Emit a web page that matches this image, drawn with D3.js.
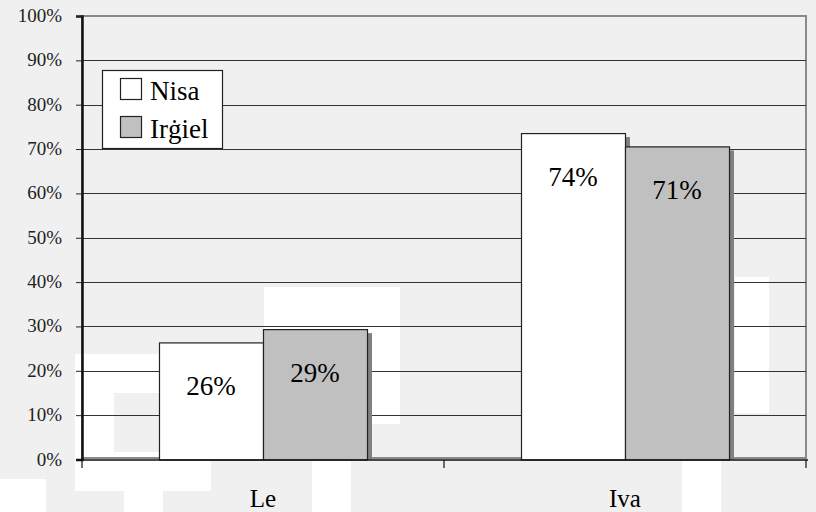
<!DOCTYPE html>
<html>
<head>
<meta charset="utf-8">
<script src="https://cdn.jsdelivr.net/npm/d3@7"></script>
</head>
<body style="margin:0;background:#f0f0f0">
<svg id="fig" width="816" height="512" style="display:block"></svg>
<script>
// ---- data ----
const categories = ["Le", "Iva"];
const seriesNames = ["Nisa", "Irġiel"];
const nisaValues = [0.264, 0.736];
const irgielValues = [0.294, 0.706];
const yTickValues = [0, 0.1, 0.2, 0.3, 0.4, 0.5, 0.6, 0.7, 0.8, 0.9, 1.0];
const seriesColors = ["#ffffff", "#c0c0c0"];

// ---- layout ----
const W = 816, H = 512;
const FONT = "Liberation Serif";
const plot = { left: 82, right: 806, top: 16, bottom: 459.5 };
const svg = d3.select("#fig");

// background watermark (decorative, not data)
const watermark = [
  [264, 287, 136, 137, "#fff"], [75, 354, 136, 137, "#fff"], [114, 393, 46, 59, "#f0f0f0"],
  [735, 277, 34, 136, "#fff"], [0, 479, 46, 33, "#fff"], [124, 491, 39, 21, "#fff"],
  [312, 460, 39, 52, "#fff"], [682, 460, 39, 52, "#fff"]
];
svg.append("rect").attr("width", W).attr("height", H).attr("fill", "#f0f0f0");
svg.append("g").selectAll("rect").data(watermark).join("rect")
  .attr("x", d => d[0]).attr("y", d => d[1]).attr("width", d => d[2]).attr("height", d => d[3])
  .attr("fill", d => d[4]);

const y = d3.scaleLinear().domain([0, 1]).range([plot.bottom, plot.top]);
const x0 = d3.scaleBand().domain(categories).range([plot.left, plot.right]).padding(0);
const groupW = 208;
const x1 = d3.scaleBand().domain(seriesNames).range([0, groupW]).padding(0);

const data = categories.map((c, i) => ({
  cat: c,
  vals: [ { s: seriesNames[0], v: nisaValues[i], ci: 0 }, { s: seriesNames[1], v: irgielValues[i], ci: 1 } ]
}));
const barX = (cat, s) => x0(cat) + x0.bandwidth() / 2 - groupW / 2 + x1(s);

// plot frame
svg.append("rect")
  .attr("x", plot.left).attr("y", plot.top)
  .attr("width", plot.right - plot.left).attr("height", plot.bottom - plot.top - 1.5)
  .attr("fill", "none").attr("stroke", "#8a8a8a").attr("stroke-width", 2);

// gridlines
svg.append("g").selectAll("line").data(yTickValues.filter(v => v > 0 && v < 1)).join("line")
  .attr("x1", plot.left).attr("x2", plot.right)
  .attr("y1", d => Math.round(y(d)) + 0.5).attr("y2", d => Math.round(y(d)) + 0.5)
  .attr("stroke", "#333").attr("stroke-width", 1.2);

// shadows
const flat = data.flatMap(d => d.vals.map(v => ({ ...v, cat: d.cat })));
svg.append("g").selectAll("rect").data(flat).join("rect")
  .attr("x", d => barX(d.cat, d.s) + 5)
  .attr("y", d => y(d.v) + 4)
  .attr("width", x1.bandwidth())
  .attr("height", d => plot.bottom - y(d.v) - 4)
  .attr("fill", "#808080");

// bars
svg.append("g").selectAll("rect").data(flat).join("rect")
  .attr("x", d => barX(d.cat, d.s) + 0.5)
  .attr("y", d => y(d.v) + 0.5)
  .attr("width", x1.bandwidth())
  .attr("height", d => plot.bottom - y(d.v))
  .attr("fill", d => seriesColors[d.ci])
  .attr("stroke", "#222").attr("stroke-width", 1.2);

// value labels
svg.selectAll("text.val").data(flat).join("text").attr("class", "val")
  .attr("x", d => barX(d.cat, d.s) + x1.bandwidth() / 2)
  .attr("y", d => y(d.v) + 53)
  .attr("text-anchor", "middle")
  .attr("font-family", FONT).attr("font-size", 27)
  .text(d => Math.round(d.v * 100) + "%");

// y axis (ticks + domain via d3.axisLeft, labels drawn alongside)
const yAxis = d3.axisLeft(y).tickValues(yTickValues).tickSize(6).tickFormat("");
const ga = svg.append("g").attr("transform", `translate(${plot.left},0)`).call(yAxis);
ga.select(".domain").attr("stroke", "#111").attr("stroke-width", 2.5);
ga.selectAll(".tick line").attr("stroke", "#222");
svg.selectAll("text.ytk").data(yTickValues).join("text").attr("class", "ytk")
  .attr("x", plot.left - 20).attr("y", d => y(d) + 6)
  .attr("text-anchor", "end")
  .attr("font-family", FONT).attr("font-size", 19).attr("fill", "#222")
  .text(d => Math.round(d * 100) + "%");

// x axis
const gx = svg.append("g").attr("transform", `translate(0,${plot.bottom + 0.5})`);
gx.append("line").attr("x1", plot.left - 6).attr("x2", plot.right + 2).attr("stroke", "#111").attr("stroke-width", 1.5);
gx.selectAll("line.tk").data(categories.map(c => x0(c)).concat([x0(categories[categories.length - 1]) + x0.bandwidth()]))
  .join("line").attr("class", "tk")
  .attr("x1", d => d).attr("x2", d => d).attr("y1", 0).attr("y2", 8)
  .attr("stroke", "#111").attr("stroke-width", 1.2);
svg.selectAll("text.cat").data(categories).join("text").attr("class", "cat")
  .attr("x", d => x0(d) + x0.bandwidth() / 2)
  .attr("y", plot.bottom + 47)
  .attr("text-anchor", "middle")
  .attr("font-family", FONT).attr("font-size", 25)
  .text(d => d);

// legend
const lg = svg.append("g").attr("transform", "translate(102,70)");
lg.append("rect").attr("x", 0.5).attr("y", 0.5).attr("width", 120).attr("height", 78)
  .attr("fill", "#fff").attr("stroke", "#222").attr("stroke-width", 1.2);
seriesNames.forEach((s, i) => {
  lg.append("rect").attr("x", 18.5).attr("y", 8.5 + i * 38).attr("width", 21).attr("height", 21)
    .attr("fill", seriesColors[i]).attr("stroke", "#222").attr("stroke-width", 1.2);
});
svg.selectAll("text.leg").data(seriesNames).join("text").attr("class", "leg")
  .attr("x", 150).attr("y", (d, i) => 100 + i * 38)
  .attr("font-family", FONT).attr("font-size", 27).text(d => d);
</script>
</body>
</html>
